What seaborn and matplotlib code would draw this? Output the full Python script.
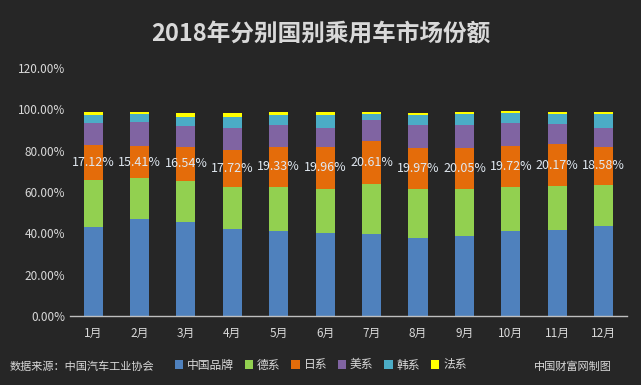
import numpy as np
import pandas as pd
import seaborn as sns
import matplotlib
matplotlib.use("Agg")
import matplotlib.pyplot as plt
from matplotlib.patches import Patch

sns.set_theme(style="dark")
plt.rcParams['font.family'] = ['Noto Sans CJK SC', 'DejaVu Sans']

months = ["1月", "2月", "3月", "4月", "5月", "6月", "7月", "8月", "9月", "10月", "11月", "12月"]
chinese = [43.3, 47.1, 45.7, 42.3, 41.3, 40.4, 39.9, 38.0, 38.9, 41.3, 41.8, 43.7]
german = [22.6, 19.7, 19.7, 20.2, 21.2, 21.3, 24.0, 23.5, 22.6, 21.2, 21.2, 19.7]
japanese = [17.12, 15.41, 16.54, 17.72, 19.33, 19.96, 20.61, 19.97, 20.05, 19.72, 20.17, 18.58]
american = [10.5, 11.5, 10.1, 11.0, 10.6, 9.6, 10.6, 11.0, 11.0, 11.1, 9.6, 9.2]
korean = [3.8, 3.9, 4.3, 5.3, 4.8, 6.2, 2.9, 4.8, 5.3, 4.8, 4.8, 6.7]
french = [1.5, 1.0, 1.9, 2.0, 1.5, 1.5, 1.0, 1.0, 1.0, 1.0, 1.0, 1.0]

series = ["中国品牌", "德系", "日系", "美系", "韩系", "法系"]
colors = ["#4F81BD", "#92D050", "#E46C0A", "#8064A2", "#4BACC6", "#FFFF00"]

df = pd.DataFrame({"month": months, "中国品牌": chinese, "德系": german, "日系": japanese,
                   "美系": american, "韩系": korean, "法系": french})
cum = df[series].cumsum(axis=1) / 100

bg = "#262626"
txt = "#D9D9D9"
fig = plt.figure(figsize=(6.41, 3.85), dpi=100, facecolor=bg)
ax = fig.add_axes([0.109, 0.179, 0.869, 0.644])
ax.set_facecolor(bg)

# stacked bars: draw cumulative totals from the top series down
for name, col in zip(series[::-1], colors[::-1]):
    sns.barplot(x=df["month"], y=cum[name], color=col, width=0.41,
                saturation=1, linewidth=0, ax=ax)

# labels for Japanese share
for i, v in enumerate(japanese):
    ax.text(i, cum["德系"][i] + v / 200, f"{v:.2f}%", ha="center", va="center",
            color="#E0E8F0", fontsize=9)

ax.set_ylim(0, 1.2)
ax.set_yticks(np.arange(0, 1.21, 0.2))
ax.set_yticklabels([f"{t * 100:.2f}%" for t in np.arange(0, 1.21, 0.2)])
ax.set_xlim(-0.5, 11.5)
ax.set_xlabel("")
ax.set_ylabel("")
ax.tick_params(colors=txt, labelsize=8.5, length=0)
ax.tick_params(axis="x", pad=8)
ax.grid(False)
for s in ["top", "right", "left"]:
    ax.spines[s].set_visible(False)
ax.spines["bottom"].set_color("#BFBFBF")
ax.spines["bottom"].set_linewidth(1)

fig.text(0.5, 0.912, "2018年分别国别乘用车市场份额", ha="center", va="center",
         color=txt, fontsize=17, fontweight="bold")

handles = [Patch(facecolor=c, edgecolor="none", label=n) for n, c in zip(series, colors)]
fig.legend(handles=handles, loc="center", bbox_to_anchor=(0.5, 0.052), ncol=6,
           frameon=False, fontsize=8.5, labelcolor=txt, handlelength=0.75,
           handleheight=0.75, handletextpad=0.3, columnspacing=0.9)

fig.text(0.015, 0.048, "数据来源：中国汽车工业协会", ha="left", va="center",
         color=txt, fontsize=8, style="italic")
fig.text(0.955, 0.048, "中国财富网制图", ha="right", va="center",
         color=txt, fontsize=8, style="italic")

fig.savefig("out.png", dpi=100, facecolor=bg)
